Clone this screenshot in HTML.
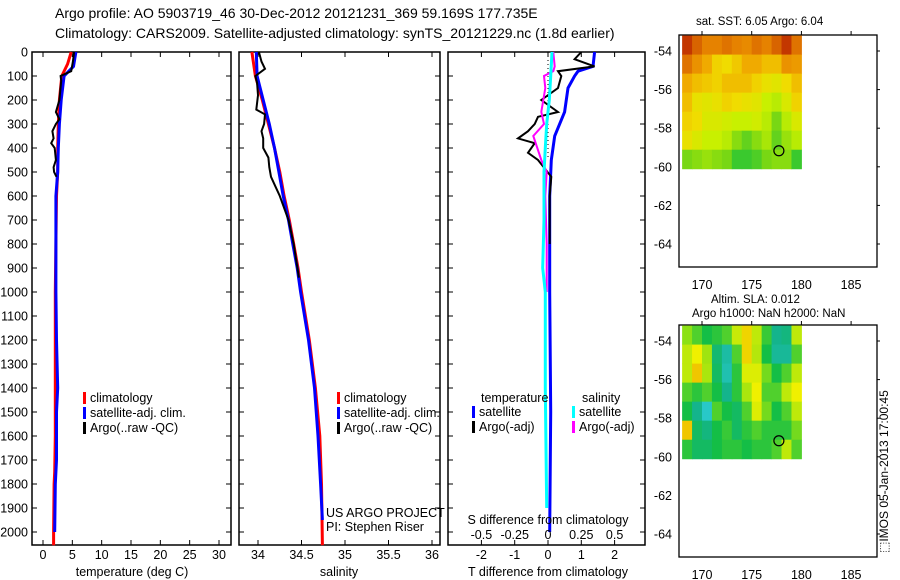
<!DOCTYPE html>
<html><head><meta charset="utf-8"><style>
html,body{margin:0;padding:0;background:#fff;width:900px;height:580px;overflow:hidden}
svg text{font-family:"Liberation Sans",sans-serif;fill:#000}
</style></head><body>
<svg id="s" width="900" height="580" xmlns="http://www.w3.org/2000/svg">
<text x="55" y="18" font-size="14">Argo profile: AO 5903719_46 30-Dec-2012 20121231_369 59.169S 177.735E</text>
<text x="55" y="38" font-size="14">Climatology: CARS2009. Satellite-adjusted climatology: synTS_20121229.nc (1.8d earlier)</text>
<text x="696" y="25" font-size="11.5">sat. SST: 6.05 Argo: 6.04</text>
<text x="711" y="303" font-size="11.5">Altim. SLA: 0.012</text>
<text x="692" y="317" font-size="11.5">Argo h1000: NaN h2000: NaN</text>
<text transform="translate(888,553) rotate(-90)" font-size="12">⬚IMOS 05-Jan-2013 17:00:45</text>
<g id="g"></g>
</svg>
<script>
// ---- data ----
const tClimDepth=[0,50,100,150,200,300,400,500,600,800,1000,1200,1400,1600,1750,1800,2000,2055];
const tClim=[4.8,4.2,3.2,3.0,2.8,2.6,2.5,2.5,2.3,2.2,2.1,2.1,2.1,2.1,2.0,1.9,1.8,1.8];
const tSatDepth=[0,60,80,100,200,300,400,500,600,800,1000,1200,1400,1500,1700,1800,2000];
const tSat=[5.6,5.2,4.4,3.6,3.1,2.8,2.6,2.5,2.2,2.2,2.2,2.3,2.5,2.3,2.3,2.1,2.0];
const tArgoDepth=[0,40,80,100,120,200,250,280,300,330,360,380,400,450,480,500,520];
const tArgo=[5.3,5.1,4.8,3.0,3.1,2.8,2.2,2.8,2.2,1.6,1.8,1.4,2.0,2.2,1.8,1.9,2.3];
const sClimDepth=[0,100,200,300,400,500,600,700,800,900,1000,1200,1400,1600,1800,2055];
const sClim=[33.93,33.97,34.05,34.12,34.19,34.25,34.30,34.36,34.41,34.46,34.50,34.59,34.66,34.71,34.73,34.74];
const sSatDepth=[0,100,200,300,400,500,600,700,800,900,1000,1200,1400,1600,1800,1950];
const sSat=[33.98,33.99,34.06,34.13,34.19,34.24,34.29,34.35,34.40,34.45,34.49,34.58,34.65,34.69,34.72,34.74];
const sArgoDepth=[0,40,70,100,130,180,240,260,300,330,360,400,440,480,520,560,600,700,800,940];
const sArgo=[34.01,34.04,34.08,33.97,33.99,34.0,33.98,34.08,34.07,34.04,34.06,34.06,34.12,34.13,34.15,34.20,34.25,34.35,34.41,34.47];
const dTSatDepth=[0,60,80,100,150,250,350,450,600,800,1000,1500,2000];
const dTSat=[1.4,1.35,0.9,0.8,0.6,0.5,0.2,0.1,0.05,0.05,0.05,0.08,0.05];
const dTArgoDepth=[0,30,60,80,100,150,200,250,270,300,330,360,380,420,450,520,600,700,800];
const dTArgo=[1.0,0.8,1.4,0.3,0.4,0.3,-0.2,0.3,-0.3,-0.4,-0.6,-0.9,-0.4,-0.6,-0.3,0.1,0.05,0.05,0.05];
const dSSatDepth=[0,100,200,300,400,500,700,900,1000,1400,1900];
const dSSat=[0.03,0.02,0.01,-0.01,-0.02,-0.03,-0.03,-0.04,-0.02,-0.02,-0.01];
const dSArgoDepth=[0,60,80,100,150,250,300,350,400,450,500,600,800,1000];
const dSArgo=[0.04,0.05,0.04,-0.03,-0.02,-0.05,-0.03,-0.11,-0.08,-0.05,-0.01,-0.02,-0.01,-0.01];
const depthTicks=[0,100,200,300,400,500,600,700,800,900,1000,1100,1200,1300,1400,1500,1600,1700,1800,1900,2000];
const tTicks=[0,5,10,15,20,25,30];
const sTicks=[34,34.5,35,35.5,36];
const sTickLabels=["34","34.5","35","35.5","36"];
const dTTicks=[-2,-1,0,1,2];
const dSTicks=[-0.5,-0.25,0,0.25,0.5];
const dSTickLabels=["-0.5","-0.25","0","0.25","0.5"];
const lonTicks=[170,175,180,185];
const latTicks=[-54,-56,-58,-60,-62,-64];
const sstGrid=[
[3,2.7,2.5,2.5,2.6,2.5,2.4,2.6,2.5,2.7,3,2.6],
[2.6,2.3,2,1.6,1.5,1.7,2,2,1.8,1.8,2.3,2.2],
[2,1.8,1.7,1.6,1.8,1.8,1.8,1.6,1.4,1.3,1.5,1.8],
[1.8,1.4,1.3,1.4,1.6,1.5,1.4,1.3,1,0.9,1.2,1.6],
[1.6,1.5,1.2,1.2,1.1,1,1,1.1,0.9,0.5,0.9,1.2],
[1.4,1.2,1,1,0.9,0.6,0.4,0.6,0.8,0.4,0.7,0.9],
[0.5,0.6,0.7,0.6,0.5,0.2,0.2,0.3,0.5,0.6,0.6,0.2]];
const slaGrid=[
[2,1.5,1,1.2,1.5,2.6,3.2,2.5,1.3,0.5,0.6,2.5],
[2.5,3,2.2,0.7,0.3,1.5,3.2,2.4,1,0.4,0.4,1.5],
[2.5,3.3,2.3,0.8,0.2,1.2,2.8,2.8,1.8,1,1.5,2.5],
[1.5,1.2,1.5,1,0.5,1.2,2.3,3,1.5,1.5,2.5,3],
[1,0.5,0,1.5,1,0.8,1.5,2.8,1.8,1,1.5,2.5],
[3.3,0.8,0.6,1,1.3,0.8,1.2,1.5,1.2,1.2,1.2,1.8],
[1.2,0.8,0.8,1,1.2,1.2,1,1.2,1.2,1.5,2.5,1.5]];
const argoLon=177.735, argoLat=-59.169;

// ---- helpers ----
const NS="http://www.w3.org/2000/svg", G=document.getElementById('g');
function mk(tag,attrs,parent){const e=document.createElementNS(NS,tag);for(const k in attrs)e.setAttribute(k,attrs[k]);(parent||G).appendChild(e);return e;}
function txt(x,y,s,size,anchor){const e=mk('text',{x:x,y:y,'font-size':size||12,'text-anchor':anchor||'start'});e.textContent=s;return e;}
const depthY=d=>52+d*0.24;
function line(xs,ds,fx,color,name,w){
  const p=xs.map((v,i)=>fx(v).toFixed(1)+','+depthY(ds[i]).toFixed(1)).join(' ');
  const e=mk('polyline',{points:p,fill:'none',stroke:color,'stroke-width':w||3,'stroke-linejoin':'miter'});
  
  
}
function frame(x0,x1,name){
  const r=mk('rect',{x:x0,y:52,width:x1-x0,height:493,fill:'none',stroke:'#000','stroke-width':1.5});
  
  
}
function xticks(vals,fx,labels,ly){
  vals.forEach((v,i)=>{const x=fx(v);
    mk('line',{x1:x,x2:x,y1:52,y2:57,stroke:'#000'});
    mk('line',{x1:x,x2:x,y1:540,y2:545,stroke:'#000'});
    const t=txt(x,ly,labels?labels[i]:String(v),12.5,'middle');
    
    
  });
}
function yticks(x0,x1){depthTicks.forEach(d=>{const y=depthY(d);
  mk('line',{x1:x0,x2:x0+5,y1:y,y2:y,stroke:'#000'});
  mk('line',{x1:x1-5,x2:x1,y1:y,y2:y,stroke:'#000'});});}
function legend(x,y,items){items.forEach((it,i)=>{
  const r=mk('rect',{x:x,y:y+i*15-10,width:3,height:12,fill:it[0]});
  
  
  const t=txt(x+7,y+i*15,it[1],12.5);
  
  
});}

// ---- panel 1: temperature ----
const fT=v=>43+v*176/30;
frame(32,231,'temperature-axes');
yticks(32,231);
depthTicks.forEach(d=>{const t=txt(28,depthY(d)+4.5,String(d),12.5,'end');
  
  });
xticks(tTicks,fT,null,559);
line(tClim,tClimDepth,fT,'#ff0000','temp-climatology-line');
line(tSat,tSatDepth,fT,'#0000ff','temp-satellite-line');
line(tArgo,tArgoDepth,fT,'#000000','temp-argo-line',2);
legend(83,402,[['#f00','climatology'],['#00f','satellite-adj. clim.'],['#000','Argo(..raw -QC)']]);
let xl=txt(132,576,'temperature (deg C)',12.5,'middle');

// ---- panel 2: salinity ----
const fS=v=>258+(v-34)*87;
frame(239,440,'salinity-axes');
yticks(239,440);
xticks(sTicks,fS,sTickLabels,559);
line(sClim,sClimDepth,fS,'#ff0000','sal-climatology-line');
line(sSat,sSatDepth,fS,'#0000ff','sal-satellite-line');
line(sArgo,sArgoDepth,fS,'#000000','sal-argo-line',2);
legend(337,402,[['#f00','climatology'],['#00f','satellite-adj. clim.'],['#000','Argo(..raw -QC)']]);
let c1=txt(326,517,'US ARGO PROJECT',12.5);
let c2=txt(326,531,'PI: Stephen Riser',12.5);
xl=txt(339,576,'salinity',12.5,'middle');

// ---- panel 3: differences ----
const fdT=v=>548+v*33.3;
const fdS=v=>548+v*133.2;
frame(448,645,'difference-axes');
yticks(448,645);
xticks(dTTicks,fdT,null,559);
mk('line',{x1:548,x2:548,y1:52,y2:160,stroke:'#000','stroke-dasharray':'1,3'});
line(dTSat,dTSatDepth,fdT,'#0000ff','tdiff-satellite-line');
line(dTArgo,dTArgoDepth,fdT,'#000000','tdiff-argo-line',2);
line(dSArgo,dSArgoDepth,fdS,'#ff00ff','sdiff-argo-line',2);
line(dSSat,dSSatDepth,fdS,'#00ffff','sdiff-satellite-line');
let tl=txt(481,402,'temperature',12.5);
let sl=txt(582,402,'salinity',12.5);
legend(472,416,[['#00f','satellite'],['#000','Argo(-adj)']]);
legend(572,416,[['#0ff','satellite'],['#f0f','Argo(-adj)']]);
let st=txt(548,524,'S difference from climatology',12.5,'middle');
dSTicks.forEach((v,i)=>{const t=txt(fdS(v),539,dSTickLabels[i],12.5,'middle');
  
  });
xl=txt(548,576,'T difference from climatology',12.5,'middle');

// ---- maps ----
function lerp(a,b,t){return a.map((v,i)=>Math.round(v+(b[i]-v)*t));}
function cmap(stops,v){for(let i=0;i<stops.length-1;i++){if(v<=stops[i+1][0]){const t=(v-stops[i][0])/(stops[i+1][0]-stops[i][0]);const c=lerp(stops[i][1],stops[i+1][1],Math.max(0,Math.min(1,t)));return 'rgb('+c.join(',')+')';}}return 'rgb('+stops[stops.length-1][1].join(',')+')';}
const sstStops=[[0,[16,192,64]],[0.5,[120,215,20]],[1,[200,240,0]],[1.5,[240,220,0]],[2,[240,170,0]],[2.5,[230,130,0]],[3,[195,55,0]]];
const slaStops=[[0,[40,200,200]],[0.5,[20,180,140]],[1,[20,190,70]],[2,[140,225,20]],[3,[240,240,0]],[3.5,[240,170,0]]];
function map(top,grid,stops,name){
  const lonX=l=>702+(l-170)*9.94;
  const y54=top+16, latY=la=>y54+(-54-la)*19.3;
  const r=mk('rect',{x:679,y:top,width:198,height:232,fill:'#fff',stroke:'#000','stroke-width':1.3});
  
  
  const x0=lonX(168),x1=lonX(180),ya=latY(-53.2),yb=latY(-60.1);
  const cw=(x1-x0)/12,ch=(yb-ya)/7;
  grid.forEach((row,ri)=>row.forEach((v,ci)=>{
    const c=mk('rect',{x:(x0+ci*cw).toFixed(2),y:(ya+ri*ch).toFixed(2),width:(cw+0.5).toFixed(2),height:(ch+0.5).toFixed(2),fill:cmap(stops,v)});
    
    
  }));
  lonTicks.forEach(l=>{const x=lonX(l);
    mk('line',{x1:x,x2:x,y1:top,y2:top-4,stroke:'#000'});
    const t=txt(x,top+254,String(l),12.5,'middle');
    
    });
  latTicks.forEach(la=>{const y=latY(la);
    mk('line',{x1:877,x2:880,y1:y,y2:y,stroke:'#000'});
    const t=txt(672,y+4.5,String(la),12.5,'end');
    
    });
  const m=mk('circle',{cx:lonX(argoLon),cy:latY(argoLat),r:5,fill:'none',stroke:'#000','stroke-width':1.2});
  
  
}
map(35,sstGrid,sstStops,'sst-map');
map(325,slaGrid,slaStops,'sla-map');
</script>
</body></html>
